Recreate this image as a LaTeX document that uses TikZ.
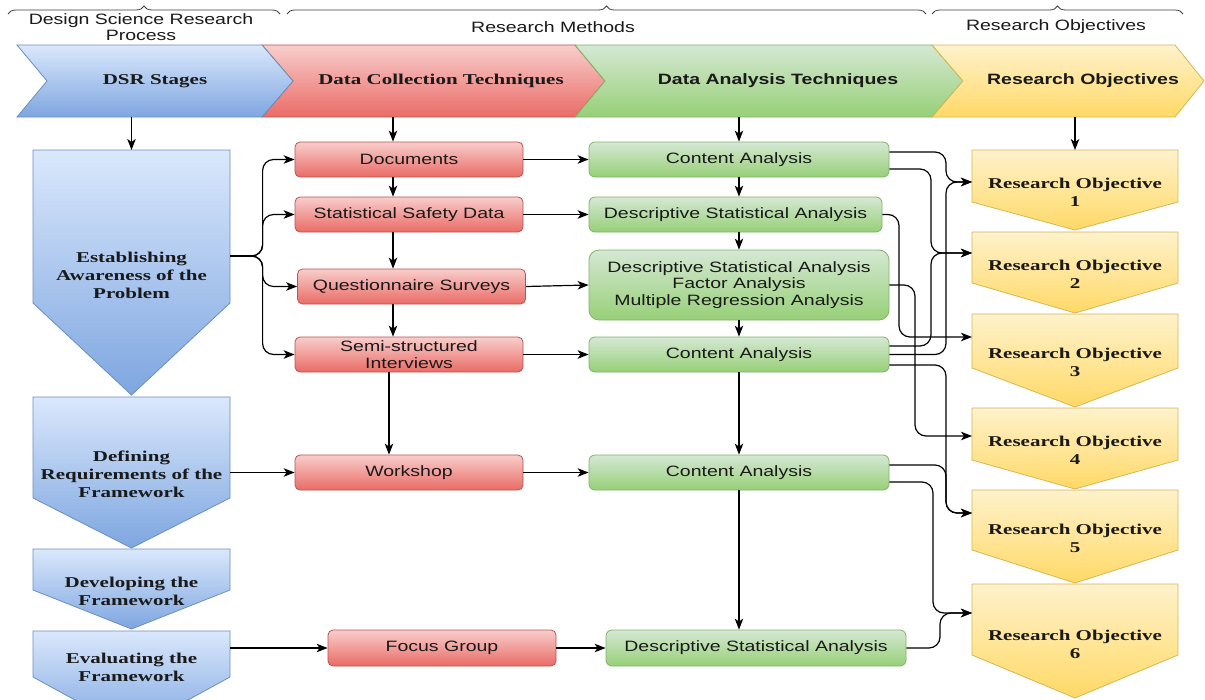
\documentclass[tikz,border=0pt]{standalone}
\usepackage{fontspec}
\newfontfamily\boxfont{Liberation Sans}[FakeStretch=1.3]
\newfontfamily\stagefont{Liberation Serif}[FakeStretch=1.4]
\usetikzlibrary{arrows.meta,calc,decorations.pathreplacing}

\definecolor{bluetop}{HTML}{DAE8FC}
\definecolor{bluebot}{HTML}{7EA6E0}
\definecolor{blueline}{HTML}{6C8EBF}
\definecolor{redtop}{HTML}{F8CECC}
\definecolor{redbot}{HTML}{EA6B66}
\definecolor{redline}{HTML}{B85450}
\definecolor{greentop}{HTML}{D5E8D4}
\definecolor{greenbot}{HTML}{97D077}
\definecolor{greenline}{HTML}{82B366}
\definecolor{yeltop}{HTML}{FFF2CC}
\definecolor{yelbot}{HTML}{FFD966}
\definecolor{yelline}{HTML}{D6B656}
\definecolor{ink}{HTML}{1A1A1A}

\tikzset{
  sanslbl/.style={font=\boxfont\fontsize{15}{16.5}\selectfont, text=ink, align=center, inner sep=0pt},
  sansbold/.style={font=\boxfont\bfseries\fontsize{15}{17}\selectfont, text=ink, align=center, inner sep=0pt},
  seriflbl/.style={font=\stagefont\bfseries\fontsize{15}{18}\selectfont, text=ink, align=center, inner sep=0pt},
  blueshape/.style={draw=blueline, line width=0.8pt, top color=bluetop, bottom color=bluebot},
  redshape/.style={draw=redline, line width=0.8pt, top color=redtop, bottom color=redbot},
  greenshape/.style={draw=greenline, line width=0.8pt, top color=greentop, bottom color=greenbot},
  yelshape/.style={draw=yelline, line width=0.8pt, top color=yeltop, bottom color=yelbot},
  redbox/.style={redshape, rounded corners=5pt, sanslbl, minimum width=228pt, minimum height=35pt},
  greenbox/.style={greenshape, rounded corners=6pt, sanslbl, minimum width=300pt, minimum height=35pt},
  bandnode/.style={minimum height=72pt, inner sep=0pt},
  conn/.style={draw=black, line width=1.2pt, -{Stealth[length=11pt,width=8.5pt,inset=3pt]}},
  bendy/.style={conn, rounded corners=11pt},
  headbrace/.style={draw=black!75, line width=0.8pt, decorate, decoration={brace, amplitude=8pt}},
}

% downward pentagon: style, name, left, right, top, shoulder, tip, text y, text
\newcommand{\pentdown}[9]{%
  \path[#1] (#3,#5) -- (#4,#5) -- (#4,#6) -- ({(#3+#4)/2},#7) -- (#3,#6) -- cycle;
  \node[inner sep=0pt, outer sep=0pt, minimum width={#4-#3}, minimum height={#7-#5}]
    (#2) at ({(#3+#4)/2},{(#5+#7)/2}) {};
  \node[seriflbl] (#2-t) at ({(#3+#4)/2},#8) {#9};
}

\begin{document}
\begin{tikzpicture}[x=1pt,y=-1pt]
\useasboundingbox (0,0) rectangle (1205,699);
\fill[white] (0,0) rectangle (1205,699);
\clip (0,0) rectangle (1205,699);

% header braces and titles
\draw[headbrace] (8,14) -- (280,14);
\draw[headbrace] (287,14) -- (926,14);
\draw[headbrace] (932,14) -- (1183,14);
\node[sanslbl] (hdsr) at (141,27) {Design Science Research\\Process};
\node[sanslbl] (hrm) at (553,27) {Research Methods};
\node[sanslbl] (hro) at (1056,27) {Research Objectives};

% chevron band
\path[redshape] (262,45) -- (575,45) -- (605,81) -- (575,117) -- (262,117) -- (293,81) -- cycle;
\path[greenshape] (575,45) -- (932,45) -- (963,81) -- (932,117) -- (575,117) -- (605,81) -- cycle;
\path[yelshape] (932,45) -- (1175,45) -- (1204,81) -- (1175,117) -- (932,117) -- (963,81) -- cycle;
\path[blueshape] (17,45) -- (262,45) -- (293,81) -- (262,117) -- (17,117) -- (47,81) -- cycle;
\node[seriflbl, bandnode] (dsr) at (155,81) {DSR Stages};
\node[seriflbl, bandnode] (dct) at (441,81) {Data Collection Techniques};
\node[sansbold, bandnode] (dat) at (778,81) {Data Analysis Techniques};
\node[sansbold, bandnode] (roh) at (1083,81) {Research Objectives};

% DSR stages
\pentdown{blueshape}{est}{33}{230}{150}{303}{395}{275}{Establishing\\Awareness of the\\Problem}
\pentdown{blueshape}{def}{33}{230}{397}{498}{548}{474}{Defining\\Requirements of the\\Framework}
\pentdown{blueshape}{dev}{33}{230}{549}{590}{629}{591}{Developing the\\Framework}
\pentdown{blueshape}{eval}{33}{230}{631}{677}{731}{667}{Evaluating the\\Framework}

% research objectives
\pentdown{yelshape}{ro1}{972}{1178}{150}{202}{230}{192}{Research Objective\\1}
\pentdown{yelshape}{ro2}{972}{1178}{232}{283}{313}{274}{Research Objective\\2}
\pentdown{yelshape}{ro3}{972}{1178}{314}{368}{407}{362}{Research Objective\\3}
\pentdown{yelshape}{ro4}{972}{1178}{408}{460}{489}{450}{Research Objective\\4}
\pentdown{yelshape}{ro5}{972}{1178}{490}{550}{583}{538}{Research Objective\\5}
\pentdown{yelshape}{ro6}{972}{1178}{584}{655}{698}{644}{Research Objective\\6}

% data collection techniques
\node[redbox] (docs) at (409,159.5) {Documents};
\node[redbox] (stat) at (409,214.5) {Statistical Safety Data};
\node[redbox] (qs) at (411.5,286.5) {Questionnaire Surveys};
\node[redbox] (semi) at (409,354.5) {Semi-structured\\Interviews};
\node[redbox] (work) at (409,472.5) {Workshop};
\node[redbox, minimum height=36pt] (focus) at (442,648) {Focus Group};

% data analysis techniques
\node[greenbox] (ca1) at (739,159.5) {Content Analysis};
\node[greenbox, minimum width=293pt] (dsa1) at (735.5,214.5) {Descriptive Statistical Analysis};
\node[greenbox, minimum height=70pt, rounded corners=10pt] (multi) at (739,285)
  {Descriptive Statistical Analysis\\Factor Analysis\\Multiple Regression Analysis};
\node[greenbox] (ca2) at (739,354.5) {Content Analysis};
\node[greenbox] (ca3) at (739,472.5) {Content Analysis};
\node[greenbox, minimum height=36pt] (dsa2) at (756,648) {Descriptive Statistical Analysis};

% helper points
\coordinate (redcol) at ($(docs.north)+(-16,0)$);
\coordinate (redcol2) at ($(semi.south)+(-20,0)$);
\coordinate (grncol) at (ca1.north);
\coordinate (estout) at ($(est.east)+(0,-16.5)$);
\coordinate (lch) at ($(docs.west)+(-32,0)$);
\coordinate (ro1in) at ($(ro1.west)+(0,-8)$);
\coordinate (ro2in) at ($(ro2.west)+(0,-19.5)$);
\coordinate (ro3in) at ($(ro3.west)+(0,-23.5)$);
\coordinate (ro4in) at ($(ro4.west)+(0,-12.5)$);
\coordinate (ro5in) at ($(ro5.west)+(0,-23.5)$);
\coordinate (ro6in) at ($(ro6.west)+(0,-28)$);
\coordinate (chA) at ($(ro1.west)+(-73,0)$);
\coordinate (chB) at ($(ro1.west)+(-57,0)$);
\coordinate (chC) at ($(ro1.west)+(-41,0)$);
\coordinate (chD) at ($(ro1.west)+(-26,0)$);
\coordinate (chE) at ($(ro1.west)+(-39,0)$);
\coordinate (chF) at ($(ro1.west)+(-32,0)$);
\coordinate (ca1a) at ($(ca1.east)+(0,-7.5)$);
\coordinate (ca1b) at ($(ca1.east)+(0,9.5)$);
\coordinate (ca2a) at ($(ca2.east)+(0,-8.5)$);
\coordinate (ca2c) at ($(ca2.east)+(0,10.5)$);
\coordinate (ca3a) at ($(ca3.east)+(0,-7.5)$);
\coordinate (ca3b) at ($(ca3.east)+(0,9.5)$);

% band to first boxes
\draw[conn] (est.north |- dsr.south) -- (est.north);
\draw[conn] (redcol |- dct.south) -- (redcol);
\draw[conn] (grncol |- dat.south) -- (grncol);
\draw[conn] (ro1.north |- roh.south) -- (ro1.north);

% stages to collection techniques
\draw[bendy] (estout) -| (lch |- docs.west) -- (docs.west);
\draw[bendy] (estout) -| (lch |- stat.west) -- (stat.west);
\draw[bendy] (estout) -| (lch |- qs.west) -- (qs.west);
\draw[bendy] (estout) -| (lch |- semi.west) -- (semi.west);
\draw[conn] (def.east |- work.west) -- (work.west);
\draw[conn] (eval.east |- focus.west) -- (focus.west);

% collection column
\draw[conn] (redcol |- docs.south) -- (redcol |- stat.north);
\draw[conn] (redcol |- stat.south) -- (redcol |- qs.north);
\draw[conn] (redcol |- qs.south) -- (redcol |- semi.north);
\draw[conn] (redcol2) -- (redcol2 |- work.north);

% collection to analysis
\draw[conn] (docs.east) -- (ca1.west);
\draw[conn] (stat.east) -- (dsa1.west);
\draw[conn] (qs.east) -- (multi.west);
\draw[conn] (semi.east) -- (ca2.west);
\draw[conn] (work.east) -- (ca3.west);
\draw[conn] (focus.east) -- (dsa2.west);

% analysis column
\draw[conn] (grncol |- ca1.south) -- (grncol |- dsa1.north);
\draw[conn] (grncol |- dsa1.south) -- (grncol |- multi.north);
\draw[conn] (grncol |- multi.south) -- (grncol |- ca2.north);
\draw[conn] (grncol |- ca2.south) -- (grncol |- ca3.north);
\draw[conn] (grncol |- ca3.south) -- (grncol |- dsa2.north);

% analysis to objectives
\draw[bendy] (ca1a) -| (chD |- ro1in) -- (ro1in);
\draw[bendy] (ca2.east) -| (chD |- ro1in) -- (ro1in);
\draw[bendy] (ca1b) -| (chC |- ro2in) -- (ro2in);
\draw[bendy] (ca2a) -| (chC |- ro2in) -- (ro2in);
\draw[bendy] (dsa1.east) -| (chA |- ro3in) -- (ro3in);
\draw[bendy] (multi.east) -| (chB |- ro4in) -- (ro4in);
\draw[bendy] (ca2c) -| (chD |- ro5in) -- (ro5in);
\draw[bendy] (ca3a) -| (chD |- ro5in) -- (ro5in);
\draw[bendy] (ca3b) -| (chE |- ro6in) -- (ro6in);
\draw[bendy] (dsa2.east) -| (chF |- ro6in) -- (ro6in);
\end{tikzpicture}
\end{document}
